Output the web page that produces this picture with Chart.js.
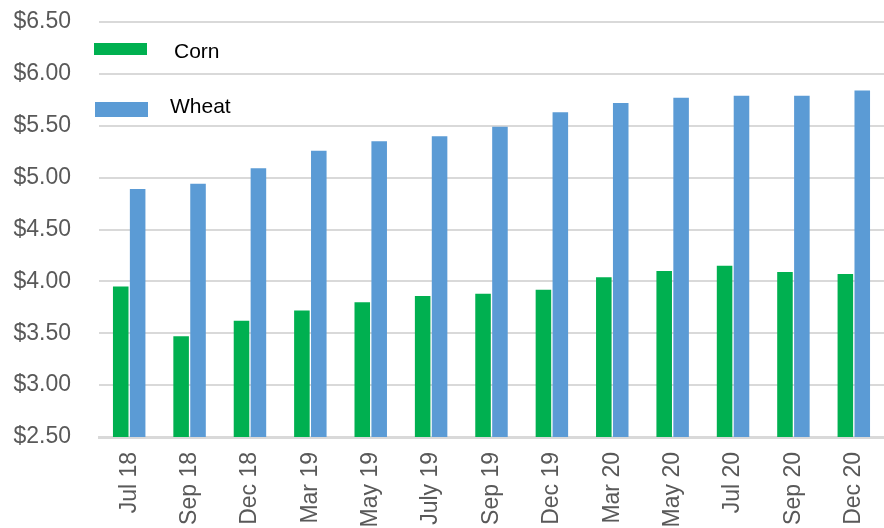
<!DOCTYPE html>
<html lang="en">
<head>
    <meta charset="UTF-8">
    <title>Corn and Wheat prices</title>
    <script src="https://cdn.jsdelivr.net/npm/chart.js@4.4.1/dist/chart.umd.min.js"></script>
    <style>
        html, body { margin: 0; padding: 0; background: #fff; overflow: hidden; }
        #wrap { width: 884px; height: 528px; }
    </style>
</head>
<body>
    <div id="wrap"><canvas id="priceChart" width="884" height="528"></canvas></div>
    <script>
        // Contract months
        const months = ['Jul 18', 'Sep 18', 'Dec 18', 'Mar 19', 'May 19', 'July 19', 'Sep 19',
                        'Dec 19', 'Mar 20', 'May 20', 'Jul 20', 'Sep 20', 'Dec 20'];

        // Prices ($/bu)
        const cornPrices  = [3.95, 3.47, 3.62, 3.72, 3.80, 3.86, 3.88, 3.92, 4.04, 4.10, 4.15, 4.09, 4.07];
        const wheatPrices = [4.89, 4.94, 5.09, 5.26, 5.35, 5.40, 5.49, 5.63, 5.72, 5.77, 5.79, 5.79, 5.84];

        const yMin = 2.5, yMax = 6.5, yStep = 0.5;

        const FONT = "'Liberation Sans', Arial, sans-serif";

        // legend drawn inside the plot, top-left, stacked
        const insideLegend = {
            id: 'insideLegend',
            afterDraw(chart) {
                const ctx = chart.ctx;
                const spots = [
                    { bx: 94, by: 43, bw: 53, bh: 12, tx: 174, ty: 52 },
                    { bx: 95, by: 102, bw: 53, bh: 15, tx: 170, ty: 107 }
                ];
                ctx.save();
                ctx.font = '21px ' + FONT;
                ctx.textBaseline = 'middle';
                chart.data.datasets.forEach((ds, i) => {
                    const s = spots[i];
                    ctx.fillStyle = ds.backgroundColor;
                    ctx.fillRect(s.bx, s.by, s.bw, s.bh);
                    ctx.fillStyle = '#000';
                    ctx.fillText(ds.label, s.tx, s.ty);
                });
                ctx.restore();
            }
        };

        window.onload = function () {
            const ctx = document.getElementById('priceChart').getContext('2d');
            new Chart(ctx, {
                type: 'bar',
                data: {
                    labels: months,
                    datasets: [
                        { label: 'Corn', data: cornPrices, backgroundColor: '#00b050' },
                        { label: 'Wheat', data: wheatPrices, backgroundColor: '#5b9bd5' }
                    ]
                },
                options: {
                    responsive: false,
                    animation: false,
                    layout: { padding: { left: 12, right: 0, top: 22, bottom: 0 } },
                    datasets: {
                        bar: { categoryPercentage: 0.56, barPercentage: 0.92 }
                    },
                    plugins: {
                        legend: { display: false },
                        tooltip: { enabled: false }
                    },
                    scales: {
                        x: {
                            grid: { display: false, drawTicks: false },
                            border: { color: '#d9d9d9', width: 3 },
                            ticks: {
                                color: '#595959',
                                font: { family: FONT, size: 23 },
                                minRotation: 90,
                                maxRotation: 90,
                                padding: 15,
                                autoSkip: false
                            },
                            afterFit(scale) {
                                scale.height = 91;
                                scale.paddingLeft = 0;
                                scale.paddingRight = 0;
                            }
                        },
                        y: {
                            min: yMin,
                            max: yMax,
                            grid: { color: '#d9d9d9', lineWidth: 2, drawTicks: false },
                            border: { display: false },
                            ticks: {
                                stepSize: yStep,
                                color: '#595959',
                                font: { family: FONT, size: 23 },
                                padding: 28,
                                callback: v => '$' + Number(v).toFixed(2)
                            },
                            afterFit(scale) {
                                scale.width = 87;
                                scale.paddingTop = 0;
                                scale.paddingBottom = 0;
                            }
                        }
                    }
                },
                plugins: [insideLegend]
            });
        };
    </script>
</body>
</html>
